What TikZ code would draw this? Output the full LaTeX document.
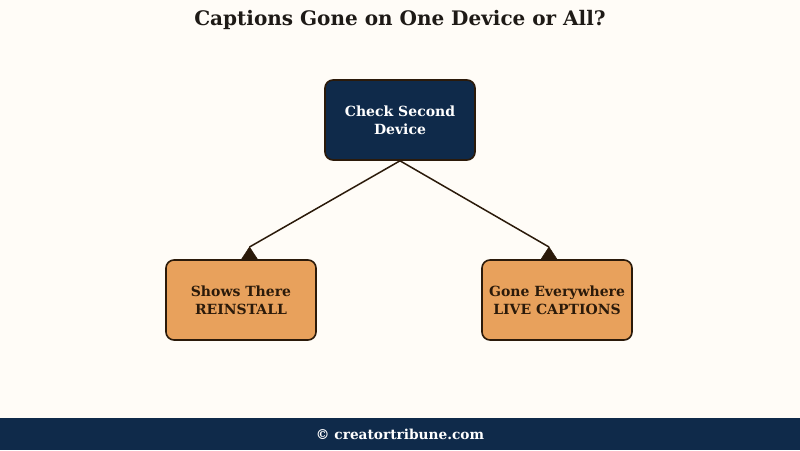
\documentclass[tikz,border=0pt]{standalone}
\usepackage{fontspec}
\setmainfont{DejaVu Serif}
\definecolor{bg}{HTML}{FFFCF7}
\definecolor{navy}{HTML}{0F2A4A}
\definecolor{edge}{HTML}{2B1A0A}
\definecolor{orange}{HTML}{E8A15C}
\definecolor{titlec}{HTML}{1E1A16}
\tikzset{
  box/.style={draw=edge, line width=1.6pt, rounded corners=8pt, minimum width=150pt, minimum height=80pt, align=center, font=\bfseries\fontsize{14}{18}\selectfont, inner sep=2pt},
  topbox/.style={box, fill=navy, text=white},
  leafbox/.style={box, fill=orange, text=edge},
  conn/.style={draw=edge, line width=1.5pt},
  head/.style={fill=edge, draw=edge, line width=0.5pt, line join=miter}
}
\begin{document}
\begin{tikzpicture}[x=1pt,y=-1pt]
\fill[bg] (0,0) rectangle (800,450);
\useasboundingbox (0,0) rectangle (800,450);
\fill[navy] (0,418) rectangle (800,450);
\node[text=titlec, font=\bfseries\fontsize{20}{24}\selectfont] (title) at (400,20) {Captions Gone on One Device or All?};
\node[topbox] (check) at (400,120) {Check Second\\Device};
\node[leafbox] (shows) at (241,300) {Shows There\\REINSTALL};
\node[leafbox] (gone) at (557,300) {Gone Everywhere\\LIVE CAPTIONS};
\coordinate (lt) at (249.5,247);
\coordinate (rt) at (549,247);
\draw[conn] (check.south) -- (lt);
\draw[conn] (check.south) -- (rt);
\fill[head] (lt) -- ++(-8.5,13) -- ++(17,0) -- cycle;
\fill[head] (rt) -- ++(-8.5,13) -- ++(17,0) -- cycle;
\node[text=white, font=\bfseries\fontsize{13.7}{16}\selectfont] (foot) at (400,434) {© creatortribune.com};
\end{tikzpicture}
\end{document}
